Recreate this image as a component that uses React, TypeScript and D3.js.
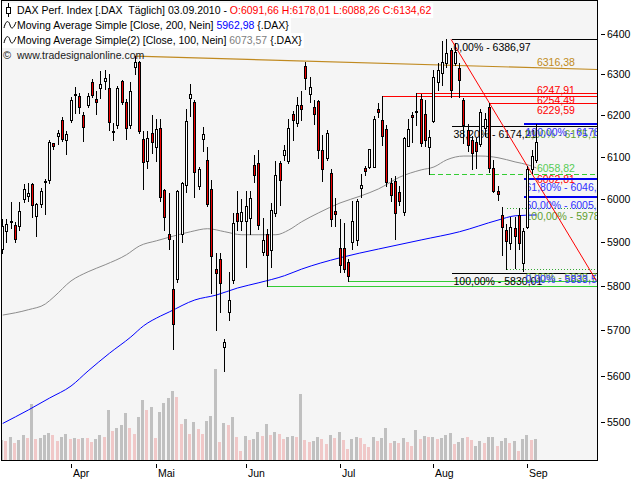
import { useEffect, useRef } from 'react';
import * as d3 from 'd3';

// daily OHLC, 10.03.2010 .. 03.09.2010 (index = trading day)
const open = [
	5885, 5925, 5947, 5940, 5937, 6001, 6007, 6036, 5961, 5989,
	6040, 6045, 6132, 6149, 6189, 6141, 6189, 6251, 6247, 6201,
	6225, 6282, 6239, 6267, 6284, 6266, 6163, 6177, 6283, 6232,
	6177, 6319, 6331, 6143, 6090, 6157, 6124, 6170, 6022, 5919,
	5792, 5815, 5919, 6033, 6242, 6232, 6031, 6143, 6093, 6024,
	5838, 5860, 5662, 5742, 5813, 5968, 5948, 5950, 5955, 6080,
	6086, 5877, 5918, 5881, 5967, 6086, 6104, 6089, 6204, 6182,
	6226, 6320, 6253, 6220, 6234, 6117, 6097, 6061, 5973, 5887,
	5887, 5854, 5901, 5905, 6026, 6073, 6076, 6076, 6215, 6189,
	6167, 6038, 6043, 6017, 5970, 6126, 6201, 6211, 6239, 6202,
	6124, 6185, 6282, 6303, 6327, 6361, 6327, 6315, 6238, 6165,
	6141, 6135, 6130, 6170, 6220, 6073, 6018, 5963, 5929, 5897,
	5932, 5962, 5851, 5936, 6070, 6091.66,
];
const high = [
	5954, 5954, 5993, 5946, 5993, 6036, 6039, 6039, 5990, 6026,
	6047, 6141, 6134, 6165, 6197, 6163, 6245, 6269, 6254, 6209,
	6254, 6288, 6259, 6308, 6311, 6302, 6181, 6272, 6287, 6240,
	6282, 6345, 6333, 6161, 6161, 6200, 6190, 6190, 6025, 6014,
	5906, 6022, 6041, 6216, 6277, 6237, 6075, 6172, 6124, 6046,
	5874, 5874, 5680, 5831, 5967, 6018, 6000, 6018, 6018, 6105,
	6117, 5956, 5930, 5990, 6089, 6090, 6128, 6190, 6210, 6245,
	6259, 6331, 6294, 6238, 6236, 6153, 6165, 6070, 6003, 5954,
	5945, 5862, 5996, 6000, 6059, 6079, 6120, 6198, 6231, 6247.91,
	6176, 6050, 6054, 6030, 6148, 6191, 6209, 6254.49, 6252, 6238,
	6165, 6311, 6327, 6383, 6386.97, 6365, 6377, 6327, 6242, 6178,
	6150, 6145, 6216, 6205, 6229.59, 6093, 6032, 5981, 5941, 5959,
	5959, 5978.19, 5932, 6079, 6117, 6178.01,
];
const low = [
	5874, 5900, 5933, 5901, 5929, 5993, 5996, 5959, 5913, 5982,
	5966, 6038, 6120, 6130, 6138, 6107, 6184, 6205, 6205, 6137,
	6219, 6245, 6203, 6241, 6264, 6164, 6140, 6170, 6228, 6143,
	6170, 6302, 6158, 6024, 6073, 6110, 6091, 5995, 5929, 5883,
	5658, 5808, 5900, 6016, 6198, 6006, 6025, 6113, 5985, 5784,
	5700, 5740, 5610, 5722, 5806, 5929, 5929, 5842, 5919, 6040,
	5930, 5870, 5800, 5842, 5960, 5986, 6093, 6085, 6141, 6175,
	6189, 6264, 6232, 6180, 6097, 6043, 6093, 5937, 5937, 5831,
	5831, 5812, 5883, 5894, 6006, 6058, 6073, 6075, 6196, 6129,
	6032, 5996, 5908, 5986, 5962, 6125, 6136, 6177, 6126, 6126,
	6058.82, 6184, 6262, 6274, 6319, 6244, 6323, 6244, 6133, 6115,
	6070, 6073, 6125, 6150, 6065, 6016, 5999, 5871, 5838.79, 5883,
	5840, 5885, 5833.53, 5932, 6062.81, 6088.26,
];
const close = [
	5937, 5943, 5950, 5908, 5973, 6024, 6014, 5986, 5989, 6020,
	6042, 6135, 6126, 6157, 6142, 6156, 6237, 6249, 6221, 6171,
	6247, 6250, 6233, 6277, 6290, 6183, 6161, 6266, 6232, 6170,
	6260, 6331, 6161, 6087, 6145, 6136, 6166, 6006, 5959, 5908,
	5715, 6018, 6039, 6185, 6252, 6063, 6070, 6155, 5988, 5868,
	5830, 5806, 5673, 5767, 5944, 5948, 5970, 5985, 6003, 6056,
	5939, 5906, 5870, 5975, 6058, 6046, 6117, 6170, 6189, 6226,
	6216, 6291, 6268, 6204, 6117, 6071, 6157, 5954, 5965, 5848,
	5838, 5822, 5948, 5995, 6034, 6067, 6119, 6190, 6209, 6149,
	6040, 6010, 5967, 5995, 6145, 6167, 6195, 6207, 6134, 6140,
	6148, 6293, 6311, 6331, 6354, 6262, 6356, 6286, 6177, 6128,
	6110, 6115, 6209, 6190, 6073, 6019, 6012, 5936, 5902, 5936,
	5913, 5899, 5925, 6070, 6101, 6134.62,
];
const volume = [
	60, 57, 69, 51, 60, 75, 66, 169, 63, 66,
	75, 81, 75, 57, 69, 78, 63, 66, 63, 66,
	66, 54, 63, 75, 69, 150, 87, 96, 105, 141,
	96, 78, 129, 180, 150, 159, 66, 144, 171, 186,
	207, 189, 109, 123, 78, 114, 93, 78, 117, 132,
	273, 54, 111, 105, 129, 69, 28, 72, 60, 63,
	84, 72, 108, 75, 84, 78, 63, 69, 72, 69,
	198, 60, 54, 57, 69, 63, 48, 75, 66, 84,
	60, 33, 63, 69, 66, 48, 39, 69, 57, 66,
	96, 51, 57, 51, 66, 54, 42, 90, 63, 72,
	69, 69, 63, 66, 75, 81, 48, 54, 66, 69,
	60, 42, 57, 51, 69, 69, 42, 57, 66, 51,
	57, 27, 63, 75, 60, 63,
];
// 1 = grey bar, 0 = pink bar
const volumeUp = [
	1, 0, 1, 0, 1, 1, 0, 1, 0, 1,
	1, 1, 0, 0, 1, 1, 0, 1, 0, 1,
	0, 0, 1, 1, 0, 1, 0, 1, 1, 1,
	0, 0, 1, 1, 0, 1, 0, 1, 1, 1,
	1, 0, 0, 1, 0, 1, 0, 0, 1, 1,
	1, 0, 1, 0, 1, 0, 0, 1, 0, 1,
	1, 0, 1, 0, 1, 0, 0, 1, 1, 0,
	1, 0, 0, 1, 1, 0, 0, 1, 0, 1,
	0, 0, 1, 1, 0, 0, 0, 1, 0, 1,
	1, 0, 1, 0, 1, 0, 0, 1, 0, 1,
	0, 1, 0, 1, 1, 1, 0, 1, 1, 0,
	0, 1, 1, 0, 1, 1, 0, 1, 1, 0,
	1, 0, 1, 1, 0, 1,
];

// moving averages at these bar indices
const ma200Index = [0, 6, 11, 16, 20, 25, 30, 33, 37, 39, 45, 50, 55, 60, 66, 70, 79, 88, 98, 107, 116, 120, 125];
const ma200Value = [5496, 5525, 5551, 5577, 5610, 5649, 5685, 5710, 5732, 5741, 5768, 5779, 5795, 5807, 5823, 5838, 5864, 5884, 5905, 5924, 5951, 5961, 5962.98];
const ma100Index = [0, 6, 10, 12, 16, 20, 24, 29, 32, 36, 40, 44, 48, 52, 56, 60, 64, 67, 70, 74, 79, 84, 88, 93, 98, 101, 104, 108, 112, 116, 120, 123, 125];
const ma100Value = [5734, 5746, 5759, 5775, 5811, 5832, 5848, 5871, 5891, 5903, 5914, 5924, 5931, 5924, 5917, 5917, 5917, 5928, 5947, 5968, 5991, 6008, 6024, 6052, 6069, 6076, 6093, 6102, 6102, 6098, 6088, 6081, 6073.57];

const monthLabels = ['Apr', 'Mai', 'Jun', 'Jul', 'Aug', 'Sep'];
const monthStartIndex = [16, 36, 57, 79, 101, 123];
const priceTicks = [5500, 5600, 5700, 5800, 5900, 6000, 6100, 6200, 6300, 6400];

// drawing tools
const brownTrendIndex = [31, 125];
const brownTrendValue = [6345, 6316.38];
const redTrendIndex = [105, 139];
const redTrendValue = [6386.97, 5812];
const redLevels = [6247.91, 6254.49, 6229.59];
const redLevelStart = [89, 97, 114];
const redMarkValue = 6062.81;
const greenLevels = [5800.15, 5811.91];
const greenLevelStart = [62, 81];
const greenDashedLevel = 6058.82;
const greenDashedStart = 100;
const blackFibHigh = 6386.97;
const blackFibLow = 5830.01;
const blackFibRatios = [0, 0.382, 1];
const blackFibStart = 105;
const blueFibLow = 5833.53;
const blueFibHigh = 6178.01;
const blueFibRatios = [1, 0.618, 0.5, 0];
const blueFibStart = 122;
const greenFibValues = [6175.15, 5978.19, 5838.79];
const greenFibLabels = ['0,00% - 6175,15', '100,00% - 5978,19', '0,00% - 5838,79'];
const greenFibStart = 118;

const fmt = (v: number) => v.toFixed(2).replace('.', ',');
const pct = (r: number) => (r * 100).toFixed(2).replace('.', ',') + '%';

export default function App() {
	const svgRef = useRef<SVGSVGElement>(null);

	useEffect(() => {
		if (!svgRef.current) return;
		const svg = d3.select(svgRef.current);
		svg.selectAll('*').remove();

		const font = "'Liberation Sans', Arial, sans-serif";
		const left = 1.5;
		const right = 597.5;
		const bottom = 460;
		const n = open.length;
		const idx = d3.range(n);

		const x = d3.scaleLinear().domain([-0.28, 139.3]).range([left, right]);
		const y = d3.scaleLog().domain([5418, 6486]).range([bottom, 0]);
		const yVol = d3.scaleLinear().domain([0, 300]).range([bottom, bottom - 100]);
		const px = (i: number) => Math.floor(x(i)) + 0.5;

		svg.append('rect').attr('width', 640).attr('height', 480).attr('fill', '#ffffff');
		svg
			.append('defs')
			.append('clipPath')
			.attr('id', 'plot-clip')
			.append('rect')
			.attr('x', left)
			.attr('y', 0)
			.attr('width', right - left)
			.attr('height', bottom);
		svg
			.append('rect')
			.attr('x', left)
			.attr('y', 0.5)
			.attr('width', right - left)
			.attr('height', bottom)
			.attr('fill', '#f5f5f5');

		const plot = svg.append('g').attr('clip-path', 'url(#plot-clip)');

		// volume
		plot
			.append('g')
			.attr('shape-rendering', 'crispEdges')
			.selectAll('rect')
			.data(idx)
			.join('rect')
			.attr('x', (i) => Math.floor(x(i)) - 2)
			.attr('width', 3)
			.attr('y', (i) => yVol(volume[i]))
			.attr('height', (i) => bottom - yVol(volume[i]))
			.attr('fill', (i) => (volumeUp[i] ? '#c0c0c0' : '#f0c8c8'));

		// moving averages
		const maLine = d3
			.line<[number, number]>()
			.x((d) => x(d[0]))
			.y((d) => y(d[1]))
			.curve(d3.curveMonotoneX);
		plot
			.append('path')
			.datum(d3.zip(ma100Index, ma100Value) as [number, number][])
			.attr('fill', 'none')
			.attr('stroke', '#8c8c8c')
			.attr('stroke-width', 1)
			.attr('d', maLine);
		plot
			.append('path')
			.datum(d3.zip(ma200Index, ma200Value) as [number, number][])
			.attr('fill', 'none')
			.attr('stroke', '#0000ff')
			.attr('stroke-width', 1)
			.attr('d', maLine);

		const hline = (value: number, start: number, color: string, width = 1, dash?: string) => {
			const yy = Math.round(y(value)) + (width % 2 ? 0.5 : 0);
			const l = plot
				.append('line')
				.attr('x1', px(start))
				.attr('x2', right)
				.attr('y1', yy)
				.attr('y2', yy)
				.attr('stroke', color)
				.attr('stroke-width', width)
				.attr('shape-rendering', 'crispEdges');
			if (dash) l.attr('stroke-dasharray', dash);
		};

		const label = (txt: string, xx: number, yy: number, color: string) => {
			plot
				.append('text')
				.attr('x', xx)
				.attr('y', yy)
				.attr('fill', color)
				.attr('font-family', font)
				.attr('font-size', 10.5)
				.text(txt);
		};

		// brown trend line, extended to the right edge
		{
			const x1 = x(brownTrendIndex[0]);
			const x2 = x(brownTrendIndex[1]);
			const y1 = y(brownTrendValue[0]);
			const y2 = y(brownTrendValue[1]);
			const yEnd = y1 + ((y2 - y1) * (right - x1)) / (x2 - x1);
			plot
				.append('line')
				.attr('x1', x1)
				.attr('y1', y1)
				.attr('x2', right)
				.attr('y2', yEnd)
				.attr('stroke', '#c08a20')
				.attr('stroke-width', 1.2);
			label(fmt(brownTrendValue[1]), x2 + 0.5, y2 - 2, '#c08a20');
		}

		// green support lines
		greenLevels.forEach((v, k) => hline(v, greenLevelStart[k], '#33cc33'));
		hline(greenDashedLevel, greenDashedStart, '#33cc33', 1, '5,3');
		label(fmt(greenDashedLevel), x(n - 1) + 0.5, y(greenDashedLevel) - 2, '#55cc55');

		// red resistance lines
		redLevels.forEach((v, k) => hline(v, redLevelStart[k], '#ff0000', 1.4));
		const redOffsets = [-2, 11, 11];
		redLevels.forEach((v, k) => label(fmt(v), x(n - 1) + 0.5, y(v) + redOffsets[k], '#ff0000'));
		label(fmt(redMarkValue), x(n - 1) + 0.5, y(redMarkValue) + 10, '#ff0000');

		// green dotted fib
		greenFibValues.forEach((v) => hline(v, greenFibStart, '#33aa33', 1, '1,2'));

		// black fib
		blackFibRatios.forEach((r) => {
			const v = blackFibHigh - r * (blackFibHigh - blackFibLow);
			hline(v, blackFibStart, '#000000');
			label(`${pct(r)} - ${fmt(v)}`, px(blackFibStart) + 2, y(v) + 12, '#000000');
		});

		greenFibValues.forEach((v, k) =>
			label(greenFibLabels[k], px(blueFibStart) + 2, y(v) + 12, '#5fa02f'),
		);

		// blue fib (the 0% level sits under the black line, only its text shows)
		blueFibRatios.forEach((r) => {
			const v = blueFibLow + r * (blueFibHigh - blueFibLow);
			if (r > 0) hline(v, blueFibStart, '#0000ee', 2);
			label(`${pct(r)} - ${fmt(v)}`, px(blueFibStart) + 2, y(v) + 12, '#3030ff');
		});

		// red down trend from the high
		plot
			.append('line')
			.attr('x1', x(redTrendIndex[0]))
			.attr('y1', y(redTrendValue[0]))
			.attr('x2', x(redTrendIndex[1]))
			.attr('y2', y(redTrendValue[1]))
			.attr('stroke', '#ff0000')
			.attr('stroke-width', 1);

		// candles
		const candles = plot.append('g').attr('shape-rendering', 'crispEdges');
		idx.forEach((i) => {
			const cx = px(i);
			candles
				.append('line')
				.attr('x1', cx)
				.attr('x2', cx)
				.attr('y1', Math.round(y(high[i])))
				.attr('y2', Math.round(y(low[i])) + 1)
				.attr('stroke', '#000')
				.attr('stroke-width', 1);
			const yt = Math.round(y(Math.max(open[i], close[i]))) + 0.5;
			const yb = Math.round(y(Math.min(open[i], close[i]))) + 0.5;
			candles
				.append('rect')
				.attr('x', cx - 1)
				.attr('y', yt)
				.attr('width', 2)
				.attr('height', Math.max(1, yb - yt))
				.attr('fill', close[i] < open[i] ? '#ee0000' : '#ffffff')
				.attr('stroke', '#000')
				.attr('stroke-width', 1);
		});

		// frame
		svg
			.append('rect')
			.attr('x', left)
			.attr('y', 0.5)
			.attr('width', right - left)
			.attr('height', bottom)
			.attr('fill', 'none')
			.attr('stroke', '#000')
			.attr('shape-rendering', 'crispEdges');

		// price axis
		const yAxis = svg.append('g');
		priceTicks.forEach((t) => {
			const yy = Math.round(y(t)) + 0.5;
			yAxis.append('line').attr('x1', 601).attr('x2', 605).attr('y1', yy).attr('y2', yy).attr('stroke', '#000');
			yAxis
				.append('text')
				.attr('x', 607)
				.attr('y', yy)
				.attr('dy', '0.35em')
				.attr('font-family', font)
				.attr('font-size', 10.5)
				.text(t);
		});

		// month axis
		const xAxis = svg.append('g');
		monthStartIndex.forEach((i, k) => {
			const xx = px(i);
			xAxis.append('line').attr('x1', xx).attr('x2', xx).attr('y1', 464).attr('y2', 468).attr('stroke', '#000');
			xAxis
				.append('text')
				.attr('x', xx + 1.5)
				.attr('y', 477)
				.attr('font-family', font)
				.attr('font-size', 10.5)
				.text(monthLabels[k]);
		});

		// legend
		const last = n - 1;
		const rows: [string, string][][] = [
			[
				['DAX Perf. Index [.DAX  Täglich] 03.09.2010 - ', '#000'],
				[`O:${fmt(open[last])} H:${fmt(high[last])} L:${fmt(low[last])} C:${fmt(close[last])}`, '#ff0000'],
			],
			[
				['Moving Average Simple [Close, 200, Nein] ', '#000'],
				[fmt(ma200Value[ma200Value.length - 1]), '#0000ff'],
				[' {.DAX}', '#000'],
			],
			[
				['Moving Average Simple(2) [Close, 100, Nein] ', '#000'],
				[fmt(ma100Value[ma100Value.length - 1]), '#808080'],
				[' {.DAX}', '#000'],
			],
		];
		rows.forEach((segs, r) => {
			const base = 14 + r * 15;
			const bg = svg.append('rect').attr('fill', '#ffffff');
			const t = svg
				.append('text')
				.attr('x', 17)
				.attr('y', base)
				.attr('font-family', font)
				.attr('font-size', 10.5)
				.style('white-space', 'pre');
			segs.forEach(([s, c]) => t.append('tspan').attr('fill', c).text(s));
			const w = (t.node() as SVGTextElement).getComputedTextLength();
			bg.attr('x', 2).attr('y', base - 11).attr('width', w + 17).attr('height', 15);
		});
		// icons
		svg.append('line').attr('x1', 8.5).attr('x2', 8.5).attr('y1', 3).attr('y2', 17).attr('stroke', '#000');
		svg
			.append('rect')
			.attr('x', 6.5)
			.attr('y', 7.5)
			.attr('width', 4)
			.attr('height', 6)
			.attr('fill', '#fff')
			.attr('stroke', '#000');
		[0, 1].forEach((r) => {
			const cy = 25 + r * 15;
			svg
				.append('path')
				.attr('d', `M4,${cy + 3} C6,${cy - 6} 9,${cy - 4} 10,${cy} S13,${cy + 5} 16,${cy - 3}`)
				.attr('fill', 'none')
				.attr('stroke', '#000')
				.attr('stroke-width', 1);
		});
		svg
			.append('text')
			.attr('x', 3)
			.attr('y', 59)
			.attr('font-family', font)
			.attr('font-size', 11)
			.attr('fill', '#202020')
			.text('©');
		svg
			.append('text')
			.attr('x', 17)
			.attr('y', 59)
			.attr('font-family', font)
			.attr('font-size', 10.5)
			.attr('fill', '#202020')
			.text('www.tradesignalonline.com');
	}, []);

	return (
		<svg
			ref={svgRef}
			width={640}
			height={480}
			style={{ position: 'fixed', left: 0, top: 0, display: 'block' }}
		/>
	);
}
